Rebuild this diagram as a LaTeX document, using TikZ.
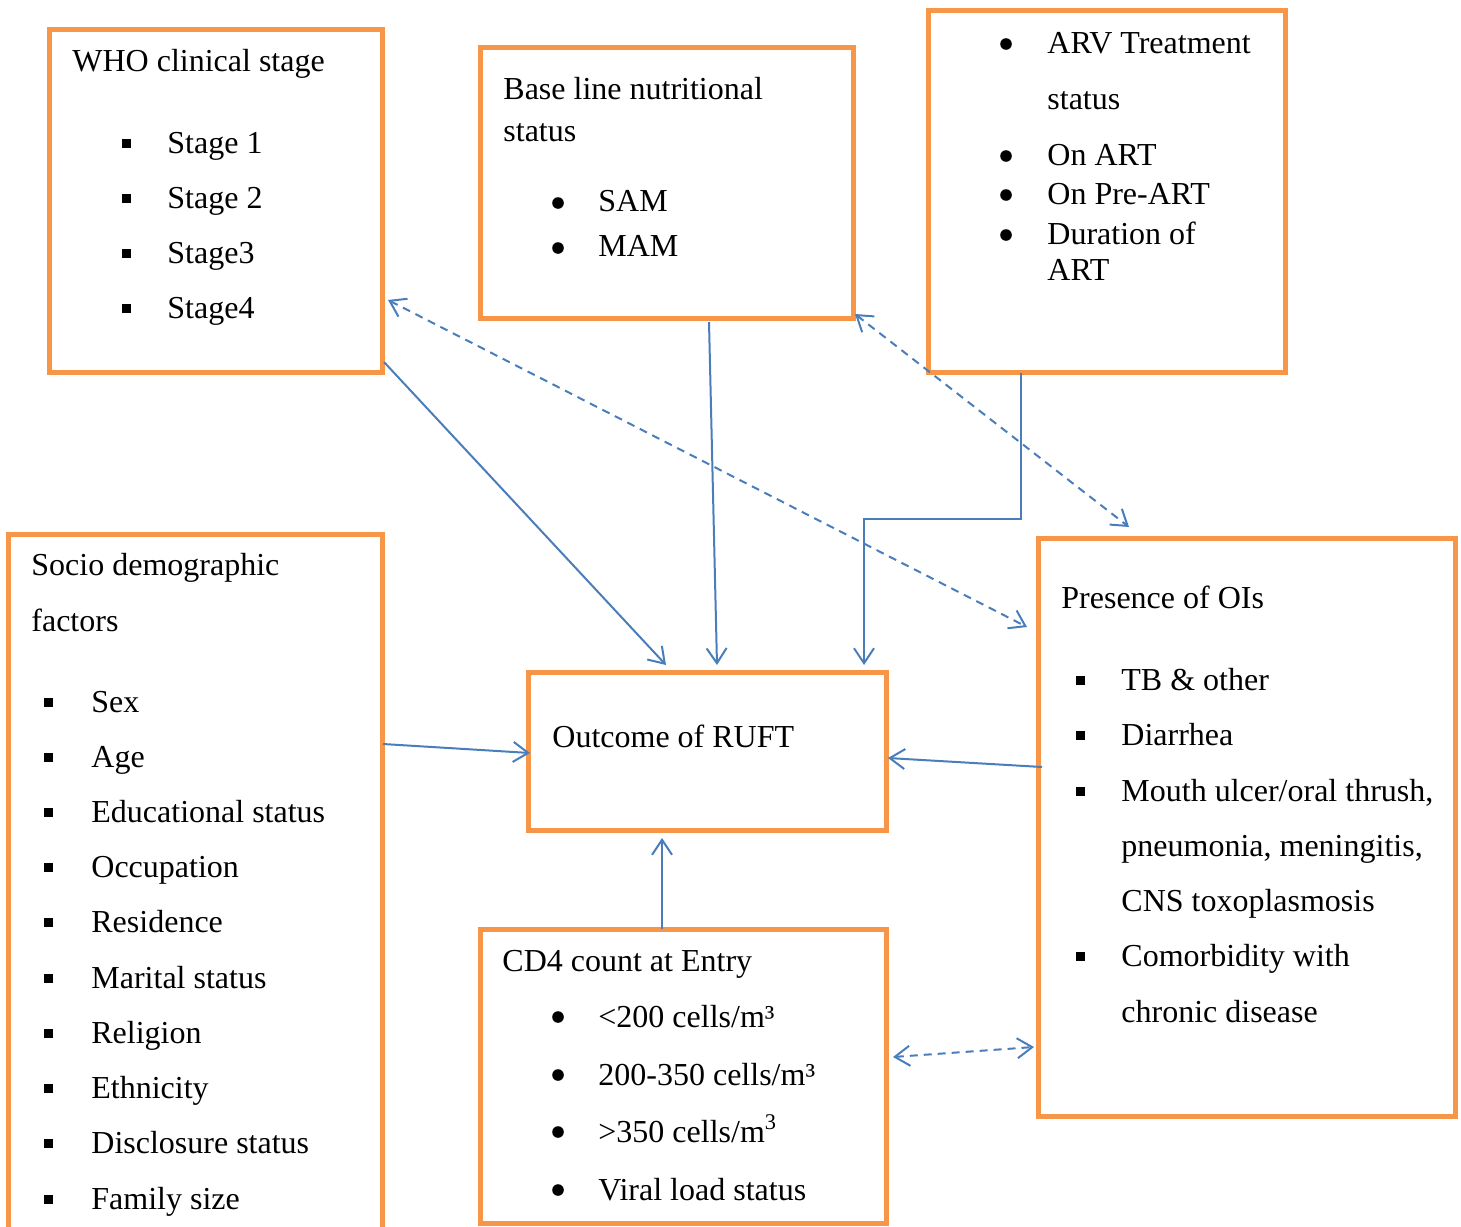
\documentclass[tikz,border=0pt]{standalone}
\usepackage{fontspec}
\setmainfont{Liberation Serif}
\usetikzlibrary{arrows.meta,calc}
\definecolor{orng}{HTML}{F79646}
\definecolor{blu}{HTML}{4A7EBB}
\begin{document}
\begin{tikzpicture}[x=0.5pt,y=-0.5pt,
 box/.style={draw=orng,line width=2.5pt,anchor=north west,inner sep=0pt,outer sep=0pt},
 txt/.style={anchor=base west,inner sep=0pt,font=\fontsize{16}{19}\selectfont},
 sqb/.style={fill=black,minimum size=4.5pt,inner sep=0pt},
 rdb/.style={circle,fill=black,minimum size=5.8pt,inner sep=0pt},
 arr/.style={draw=blu,line width=1pt,-{Straight Barb[length=7.5pt,width=10pt]}},
 darr/.style={draw=blu,line width=1pt,dash pattern=on 4pt off 3pt,{Straight Barb[length=7.5pt,width=10pt]}-{Straight Barb[length=7.5pt,width=10pt]}}]
\useasboundingbox (0,0) rectangle (1461,1226);
% boxes
\node[box,minimum width=166.5pt,minimum height=171.5pt] (who) at (49,29) {};
\node[box,minimum width=186.5pt,minimum height=135.5pt] (base) at (480,47) {};
\node[box,minimum width=178.5pt,minimum height=181pt] (arv) at (928,10) {};
\node[box,minimum width=187pt,minimum height=349pt] (soc) at (8,534) {};
\node[box,minimum width=179pt,minimum height=79pt] (out) at (528,672) {};
\node[box,minimum width=203pt,minimum height=147pt] (cd4) at (480,929) {};
\node[box,minimum width=208.5pt,minimum height=289pt] (ois) at (1038,538) {};
% WHO
\node[txt] (w0) at (72,71) {WHO clinical stage};
\node[sqb] (wb1) at (126,143) {}; \node[txt] (w1) at (167,153) {Stage 1};
\node[sqb] (wb2) at (126,198) {}; \node[txt] (w2) at (167,208) {Stage 2};
\node[sqb] (wb3) at (126,253) {}; \node[txt] (w3) at (167,263) {Stage3};
\node[sqb] (wb4) at (126,308) {}; \node[txt] (w4) at (167,318) {Stage4};
% Base line
\node[txt] (b0) at (503,99) {Base line nutritional};
\node[txt] (b0a) at (503,141) {status};
\node[rdb] (bb1) at (558,203) {}; \node[txt] (b1) at (598,211) {SAM};
\node[rdb] (bb2) at (558,248) {}; \node[txt] (b2) at (598,256) {MAM};
% ARV
\node[rdb] (ab1) at (1006,44) {}; \node[txt] (a1) at (1047,54) {ARV Treatment};
\node[txt] (a1a) at (1047,109) {status};
\node[rdb] (ab2) at (1006,156) {}; \node[txt] (a2) at (1047,165) {On ART};
\node[rdb] (ab3) at (1006,195) {}; \node[txt] (a3) at (1047,204) {On Pre-ART};
\node[rdb] (ab4) at (1006,235) {}; \node[txt] (a4) at (1047,244) {Duration of};
\node[txt] (a4a) at (1047,280) {ART};
% Socio
\node[txt] (s0) at (31,575) {Socio demographic};
\node[txt] (s0a) at (31,631) {factors};
\foreach \y/\t [count=\i] in {702/Sex,757/Age,812/Educational status,867/Occupation,922/Residence,978/Marital status,1033/Religion,1088/Ethnicity,1143/Disclosure status,1199/Family size}{
  \node[sqb] (sb\i) at (48,\y) {};
  \node[txt] (s\i) at (91,\y+10) {\t};
}
% Outcome
\node[txt] (o0) at (552,747) {Outcome of RUFT};
% CD4
\node[txt] (c0) at (502,971) {CD4 count at Entry};
\node[rdb] (cb1) at (558,1017) {}; \node[txt] (c1) at (598,1027) {<200 cells/m³};
\node[rdb] (cb2) at (558,1075) {}; \node[txt] (c2) at (598,1085) {200-350 cells/m³};
\node[rdb] (cb3) at (558,1132) {}; \node[txt] (c3) at (598,1142) {>350 cells/m\textsuperscript{3}};
\node[rdb] (cb4) at (558,1190) {}; \node[txt] (c4) at (598,1200) {Viral load status};
% OIs
\node[txt] (i0) at (1061,608) {Presence of OIs};
\node[sqb] (ib1) at (1080,680) {}; \node[txt] (i1) at (1121,690) {TB \& other};
\node[sqb] (ib2) at (1080,735) {}; \node[txt] (i2) at (1121,745) {Diarrhea};
\node[sqb] (ib3) at (1080,791) {}; \node[txt] (i3) at (1121,801) {Mouth ulcer/oral thrush,};
\node[txt] (i3a) at (1121,856) {pneumonia, meningitis,};
\node[txt] (i3b) at (1121,911) {CNS toxoplasmosis};
\node[sqb] (ib4) at (1080,956) {}; \node[txt] (i4) at (1121,966) {Comorbidity with};
\node[txt] (i4a) at (1121,1022) {chronic disease};
% connectors
\draw[arr] ($(who.south east)+(2,-10)$) -- ($(out.north west)+(138,-7)$);
\draw[arr] ($(base.south west)+(229,4)$) -- ($(out.north west)+(189,-7)$);
\draw[arr] ($(arv.south west)+(93,1)$) -- ++(0,146) -| ($(out.north west)+(336,-7)$);
\draw[arr] ($(soc.north east)+(1,210)$) -- ($(out.west)+(2,2)$);
\draw[arr] ($(ois.west)+(4,-60)$) -- ($(out.east)+(2,7)$);
\draw[arr] ($(cd4.north west)+(182,0)$) -- ($(out.south west)+(134,8)$);
\draw[darr] ($(who.north east)+(6,271)$) -- ($(ois.north west)+(-11,89)$);
\draw[darr] ($(base.south east)+(2,-4)$) -- ($(ois.north west)+(91,-11)$);
\draw[darr] ($(cd4.east)+(7,-19)$) -- ($(ois.south west)+(-4,-69)$);
\end{tikzpicture}
\end{document}
